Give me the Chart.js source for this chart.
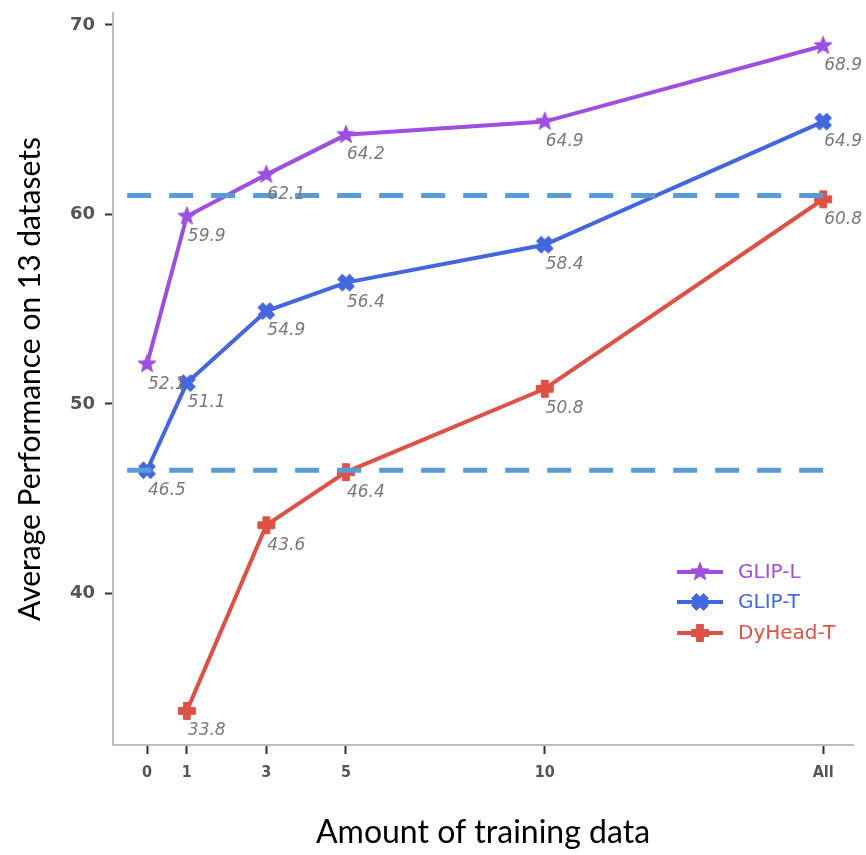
<!DOCTYPE html>
<html><head><meta charset="utf-8">
<script src="https://cdn.jsdelivr.net/npm/chart.js@4.4.0/dist/chart.umd.min.js"></script>
<style>html,body{margin:0;padding:0;background:#fff}#wrap{width:866px;height:855px}</style>
</head><body><div id="wrap"><canvas id="c" width="866" height="855"></canvas></div>
<script>
const xValues = [0, 1, 3, 5, 10, 17];
const xTickLabels = ['0', '1', '3', '5', '10', 'All'];
const glipL = [52.1, 59.9, 62.1, 64.2, 64.9, 68.9];
const glipT = [46.5, 51.1, 54.9, 56.4, 58.4, 64.9];
const dyheadT = [null, 33.8, 43.6, 46.4, 50.8, 60.8];
const seriesNames = ['GLIP-L', 'GLIP-T', 'DyHead-T'];
const refLevels = [61, 46.5];
const refSpan = [-0.5, 17];
const yTicks = [40, 50, 60, 70];

const colors = ['#9d4fe0', '#4467de', '#dd5246'];
const refColor = '#5b9bd5';

function polyPts(shape) {
  const pts = [];
  if (shape === 'star') {
    for (let i = 0; i < 10; i++) {
      const r = i % 2 === 0 ? 9.5 : 4;
      const a = -Math.PI / 2 + i * Math.PI / 5;
      pts.push([r * Math.cos(a), r * Math.sin(a)]);
    }
  } else {
    const w = 3.4, L = 8.5;
    const base = [[-w,-L],[w,-L],[w,-w],[L,-w],[L,w],[w,w],[w,L],[-w,L],[-w,w],[-L,w],[-L,-w],[-w,-w]];
    const rot = shape === 'x' ? Math.PI / 4 : 0;
    base.forEach(([x, y]) => pts.push([x * Math.cos(rot) - y * Math.sin(rot), x * Math.sin(rot) + y * Math.cos(rot)]));
  }
  return pts;
}
function drawShape(ctx, shape, color, cx, cy) {
  const pts = polyPts(shape);
  ctx.beginPath();
  pts.forEach(([x, y], i) => i ? ctx.lineTo(cx + x, cy + y) : ctx.moveTo(cx + x, cy + y));
  ctx.closePath();
  ctx.fillStyle = color;
  ctx.fill();
  ctx.lineWidth = 1;
  ctx.strokeStyle = color;
  ctx.stroke();
}
function makeMarker(shape, color) {
  const c = document.createElement('canvas');
  c.width = 24; c.height = 24;
  drawShape(c.getContext('2d'), shape, color, 12, 12);
  return c;
}
const shapes = ['star', 'x', 'plus'];
const markers = shapes.map((s, i) => makeMarker(s, colors[i]));

function toPts(arr) { return xValues.map((x, i) => ({ x: x, y: arr[i] })); }
const seriesData = [glipL, glipT, dyheadT];

const datasets = seriesData.map((arr, i) => ({
  label: seriesNames[i],
  data: toPts(arr),
  borderColor: colors[i],
  backgroundColor: colors[i],
  borderWidth: 4,
  pointStyle: markers[i],
  pointRadius: 9,
  order: 2,
}));
refLevels.forEach((lv) => datasets.push({
  label: 'ref',
  data: [{ x: refSpan[0], y: lv }, { x: refSpan[1], y: lv }],
  borderColor: refColor,
  borderWidth: 5,
  borderDash: [24, 18],
  pointRadius: 0,
  order: 1,
}));

const labelPlugin = {
  id: 'valueLabels',
  afterDatasetsDraw(chart) {
    const ctx = chart.ctx;
    ctx.save();
    ctx.font = 'italic 17px "DejaVu Sans"';
    ctx.fillStyle = '#7a7a7a';
    ctx.textAlign = 'left';
    ctx.textBaseline = 'middle';
    seriesData.forEach((arr, i) => {
      const meta = chart.getDatasetMeta(i);
      meta.data.forEach((pt, j) => {
        if (arr[j] === null) return;
        ctx.fillText(arr[j].toFixed(1), pt.x + 1, pt.y + 20);
      });
    });
    ctx.restore();
  }
};
const legendPlugin = {
  id: 'innerLegend',
  afterDraw(chart) {
    const ctx = chart.ctx;
    ctx.save();
    const x0 = 677, x1 = 723, tx = 738;
    const ys = [572, 602, 633];
    ctx.font = '20px "DejaVu Sans"';
    ctx.textBaseline = 'middle';
    ctx.textAlign = 'left';
    seriesNames.forEach((n, i) => {
      ctx.strokeStyle = colors[i];
      ctx.lineWidth = 4;
      ctx.beginPath();
      ctx.moveTo(x0, ys[i]);
      ctx.lineTo(x1, ys[i]);
      ctx.stroke();
      drawShape(ctx, shapes[i], colors[i], (x0 + x1) / 2, ys[i]);
      ctx.fillStyle = colors[i];
      ctx.fillText(n, tx, ys[i] + 1);
    });
    ctx.restore();
  }
};

new Chart(document.getElementById('c'), {
  type: 'line',
  data: { datasets },
  options: {
    responsive: false,
    animation: false,
    devicePixelRatio: 1,
    layout: { padding: { top: 10, right: 6, left: 0, bottom: 0 } },
    plugins: { legend: { display: false }, tooltip: { enabled: false } },
    scales: {
      x: {
        type: 'linear',
        min: -0.856,
        max: 17.75,
        afterBuildTicks: (s) => { s.ticks = xValues.map(v => ({ value: v })); },
        afterFit: (s) => { s.height = 110; s.paddingLeft = 0; s.paddingRight = 0; },
        ticks: {
          callback: (v) => xTickLabels[xValues.indexOf(v)],
          font: { family: '"DejaVu Sans Condensed", "DejaVu Sans"', size: 16, weight: 'bold' },
          color: '#555',
          padding: 9,
          maxRotation: 0,
        },
        grid: { drawOnChartArea: false, drawTicks: true, tickLength: 9, tickColor: '#333', tickWidth: 2 },
        border: { color: '#bdbdbd', width: 2 },
        title: { display: true, text: 'Amount of training data', font: { family: 'Lato', size: 32 }, color: '#000', padding: { top: 0, bottom: 3 } },
      },
      y: {
        type: 'linear',
        min: 32,
        max: 70.63,
        afterBuildTicks: (s) => { s.ticks = yTicks.map(v => ({ value: v })); },
        afterFit: (s) => { s.width = 113; s.paddingTop = 0; s.paddingBottom = 0; },
        ticks: {
          font: { family: 'DejaVu Sans', size: 18, weight: 'bold' },
          color: '#555',
          padding: 10,
        },
        grid: { drawOnChartArea: false, drawTicks: true, tickLength: 8, tickColor: '#333', tickWidth: 2 },
        border: { color: '#bdbdbd', width: 2 },
        title: { display: true, text: 'Average Performance on 13 datasets', font: { family: 'Lato', size: 30 }, color: '#000', padding: { top: 12, bottom: 0 } },
      }
    }
  },
  plugins: [labelPlugin, legendPlugin]
});
</script></body></html>
